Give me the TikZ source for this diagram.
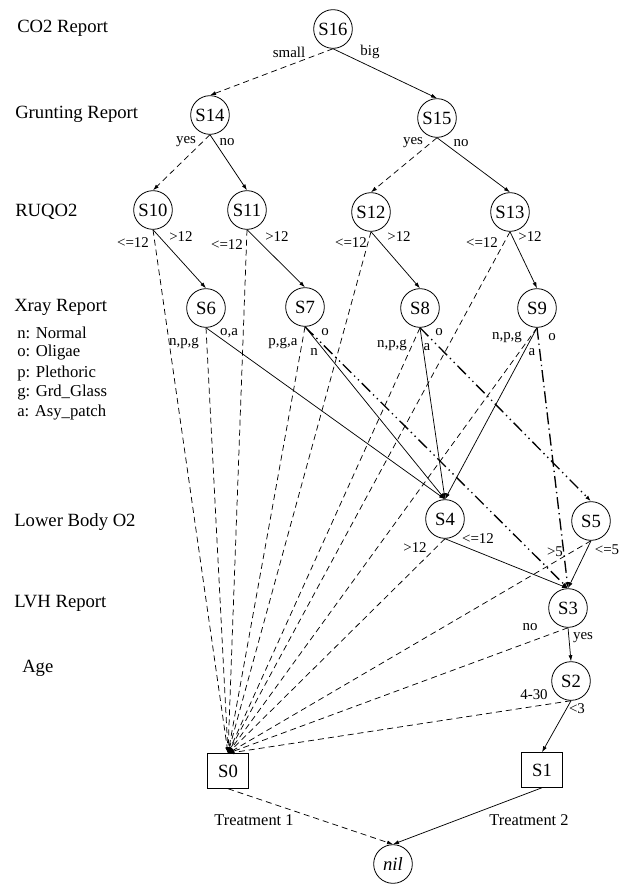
\documentclass[tikz,border=0pt]{standalone}
\usepackage{fontspec}
\setmainfont{Liberation Serif}
\usetikzlibrary{arrows.meta}
\begin{document}
\begin{tikzpicture}[x=0.75pt,y=-0.75pt,
 state/.style={circle,draw,line width=0.6pt,minimum size=29pt,inner sep=0pt,font=\fontsize{14}{16}\selectfont},
 leaf/.style={rectangle,draw,line width=0.6pt,minimum width=31pt,minimum height=26pt,inner sep=0pt,font=\fontsize{14}{16}\selectfont},
 rowlab/.style={anchor=west,font=\fontsize{14}{16}\selectfont,inner sep=0pt},
 leglab/.style={anchor=west,font=\fontsize{12.5}{14}\selectfont,inner sep=0pt},
 elab/.style={font=\fontsize{11.2}{13}\selectfont,inner sep=0pt},
 tlab/.style={font=\fontsize{12.3}{14}\selectfont,inner sep=0pt},
 conn/.style={-{Latex[length=4.5pt,width=3pt]},line width=0.55pt},
 dsh/.style={conn,dash pattern=on 4.5pt off 3pt},
 ddot/.style={conn,line width=1pt,dash pattern=on 9pt off 3pt on 1pt off 3pt on 1pt off 3pt},
 dashdot/.style={conn,line width=1pt,dash pattern=on 9pt off 3pt on 1pt off 3pt},
]
\useasboundingbox (0,0) rectangle (630,884);

% row labels
\node[rowlab] (lco2) at (17,28) {CO2 Report};
\node[rowlab] (lgrunt) at (15,114) {Grunting Report};
\node[rowlab] (lruq) at (15,212) {RUQO2};
\node[rowlab] (lxray) at (14,307) {Xray Report};
\node[leglab] (ln) at (17,333) {n: Normal};
\node[leglab] (lo) at (17,353) {o: Oligae};
\node[leglab] (lp) at (17,373) {p: Plethoric};
\node[leglab] (lg) at (17,393) {g: Grd\_Glass};
\node[leglab] (la) at (17,413) {a: Asy\_patch};
\node[rowlab] (llow) at (14,522) {Lower Body O2};
\node[rowlab] (llvh) at (14,603) {LVH Report};
\node[rowlab] (lage) at (22,668) {Age};

% nodes
\node[state] (S16) at (333,29) {S16};
\node[state] (S14) at (210,115) {S14};
\node[state] (S15) at (437,118) {S15};
\node[state] (S10) at (153,210) {S10};
\node[state] (S11) at (247,210) {S11};
\node[state] (S12) at (371,212) {S12};
\node[state] (S13) at (510,212) {S13};
\node[state] (S6) at (206,308) {S6};
\node[state] (S7) at (305,307) {S7};
\node[state] (S8) at (420,308) {S8};
\node[state] (S9) at (537,308) {S9};
\node[state] (S4) at (445,519) {S4};
\node[state] (S5) at (591,521) {S5};
\node[state] (S3) at (568,608) {S3};
\node[state] (S2) at (571,681) {S2};
\node[leaf] (S0) at (228,771) {S0};
\node[leaf] (S1) at (542,770) {S1};
\node[state] (nil) at (393,864) {\textit{nil}};

% connectors
\draw[dsh] (S16.south) -- (S14.north);
\draw[conn] (S16.south) -- (S15.north);
\draw[dsh] (S14.south) -- (S10.north);
\draw[conn] (S14.south) -- (S11.north);
\draw[dsh] (S15.south) -- (S12.north);
\draw[conn] (S15.south) -- (S13.north);
\draw[conn] (S10.south) -- (S6.north);
\draw[conn] (S11.south) -- (S7.north);
\draw[conn] (S12.south) -- (S8.north);
\draw[conn] (S13.south) -- (S9.north);
\foreach \s in {S10,S11,S12,S13,S6,S7,S8,S9,S4,S5,S3,S2}
  \draw[dsh] (\s.south) -- (S0.north);
\draw[conn] (S6.south) -- (S4.north);
\draw[conn] (S7.south) -- (S4.north);
\draw[conn] (S8.south) -- (S4.north);
\draw[conn] (S9.south) -- (S4.north);
\draw[ddot] (S7.south) -- (S3.north);
\draw[ddot] (S8.south) -- (S5.north);
\draw[dashdot] (S9.south) -- (S3.north);
\draw[conn] (S4.south) -- (S3.north);
\draw[conn] (S5.south) -- (S3.north);
\draw[conn] (S3.south) -- (S2.north);
\draw[conn] (S2.south) -- (S1.north);
\draw[dsh] (S0.south) -- (nil.north);
\draw[conn] (S1.south) -- (nil.north);

% edge labels
\node[elab] (e1) at (289,52) {small};
\node[elab] (e2) at (370,52) {big};
\node[elab] (e3) at (186,142) {yes};
\node[elab] (e4) at (227,142) {no};
\node[elab] (e5) at (413,143) {yes};
\node[elab] (e6) at (461,143) {no};
\node[elab] (e7) at (133,243) {<=12};
\node[elab] (e8) at (181,237) {>12};
\node[elab] (e9) at (227,245) {<=12};
\node[elab] (e10) at (277,237) {>12};
\node[elab] (e11) at (351,243) {<=12};
\node[elab] (e12) at (399,237) {>12};
\node[elab] (e13) at (482,243) {<=12};
\node[elab] (e14) at (530,237) {>12};
\node[elab] (e15) at (184,343) {n,p,g};
\node[elab] (e16) at (229,333) {o,a};
\node[elab] (e17) at (283,343) {p,g,a};
\node[elab] (e18) at (325,332) {o};
\node[elab] (e19) at (314,352) {n};
\node[elab] (e20) at (392,345) {n,p,g};
\node[elab] (e21) at (427,347) {a};
\node[elab] (e22) at (439,332) {o};
\node[elab] (e23) at (507,337) {n,p,g};
\node[elab] (e24) at (532,352) {a};
\node[elab] (e25) at (552,337) {o};
\node[elab] (e26) at (415,548) {>12};
\node[elab] (e27) at (478,539) {<=12};
\node[elab] (e28) at (555,552) {>5};
\node[elab] (e29) at (607,550) {<=5};
\node[elab] (e30) at (530,627) {no};
\node[elab] (e31) at (583,638) {yes};
\node[elab] (e32) at (534,695) {4-30};
\node[elab] (e33) at (577,709) {<3};
\node[tlab] (t1) at (254,820) {Treatment 1};
\node[tlab] (t2) at (529,820) {Treatment 2};
\end{tikzpicture}
\end{document}
